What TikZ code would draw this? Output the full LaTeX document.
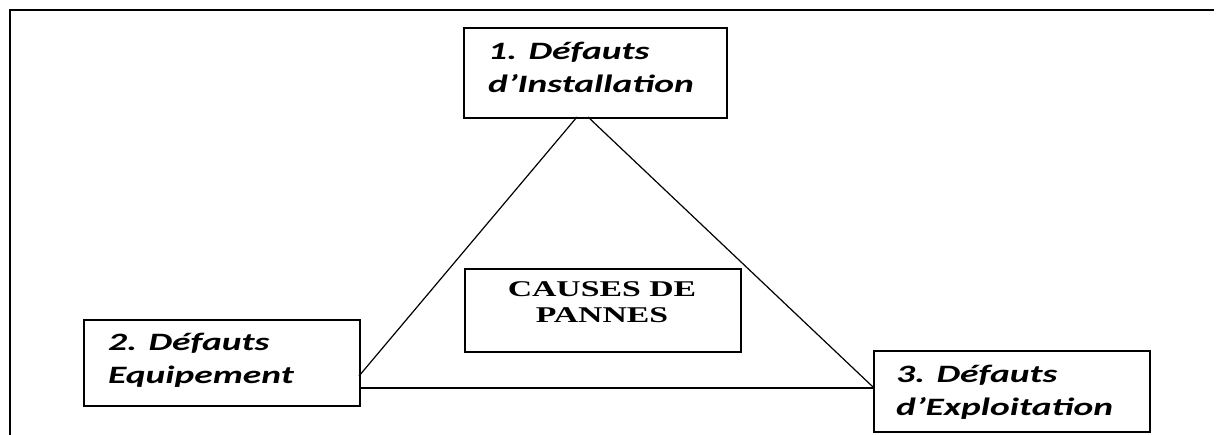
\documentclass[tikz,border=0pt]{standalone}
\usepackage{fontspec}
\newfontfamily\calfont[FakeStretch=1.5]{Carlito}
\newfontfamily\timesfont[FakeStretch=1.5]{Liberation Serif}
\begin{document}
\begin{tikzpicture}[x=1pt,y=-1pt,
  box/.style={draw=black, line width=1.8pt, inner sep=0pt, anchor=north west},
  txt/.style={font=\calfont\bfseries\itshape\fontsize{25}{33}\selectfont, inner sep=0pt, anchor=base west},
  ctxt/.style={font=\timesfont\bfseries\fontsize{22.5}{26}\selectfont, inner sep=0pt, anchor=base},
  frame/.style={draw=black, line width=1.6pt},
  edge/.style={draw=black, line width=1.2pt}]
\useasboundingbox (0,0) rectangle (1221,435);
% outer frame (top and left only)
\coordinate (f0) at (10,435);
\coordinate (f1) at (10,10);
\coordinate (f2) at (1214,10);
\draw[frame] (f0) -- (f1) -- (f2);
% boxes
\node[box, minimum width=263pt, minimum height=90pt] (b1) at (463,27) {};
\node[box, minimum width=276pt, minimum height=86pt] (b2) at (83,319) {};
\node[box, minimum width=276pt, minimum height=81pt] (b3) at (873,350) {};
\node[box, minimum width=276pt, minimum height=83pt] (bc) at (464,268) {};
% texts
\node[txt] (t1) at (488,60) {\vtop{\hbox{1. Défauts}\hbox{d’Installation}}};
\node[txt] (t2) at (108,351) {\vtop{\hbox{2. Défauts}\hbox{Equipement}}};
\node[txt] (t3) at (896,383) {\vtop{\hbox{3. Défauts}\hbox{d’Exploitation}}};
\node[ctxt] (tc) at (602,297) {\vtop{\hbox to 0pt{\hss CAUSES DE\hss}\hbox to 0pt{\hss PANNES\hss}}};
% triangle connectors
\coordinate (a1) at (577,117);
\coordinate (a2) at (588,117);
\coordinate (l1) at (359,376);
\coordinate (l2) at (359,388);
\coordinate (r1) at (873,387);
\coordinate (r2) at (873,388);
\draw[edge] (a1) -- (l1);
\draw[edge] (a2) -- (r1);
\draw[edge] (l2) -- (r2);
\end{tikzpicture}
\end{document}
